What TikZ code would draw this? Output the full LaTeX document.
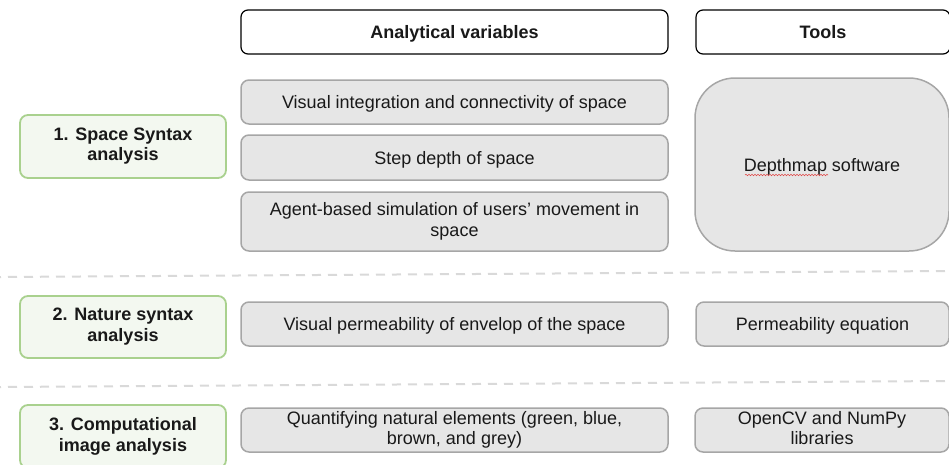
\documentclass[tikz,border=0pt]{standalone}
\usepackage{fontspec}
\setmainfont{Liberation Sans}
\usetikzlibrary{calc,decorations.pathmorphing}
\definecolor{gfill}{HTML}{E6E6E6}
\definecolor{gborder}{HTML}{A6A6A6}
\definecolor{grfill}{HTML}{F3F8F0}
\definecolor{grborder}{HTML}{A9D18E}
\definecolor{dashgray}{HTML}{D9D9D9}
\definecolor{squig}{HTML}{E04848}
\begin{document}
\begin{tikzpicture}[x=1pt,y=-1pt,
  box/.style={rounded corners=8pt, line width=1.5pt, inner sep=0pt, outer sep=0pt, align=center,
    font=\fontsize{18}{20.5}\selectfont, text=black!90,
    execute at begin node={\rule{0pt}{18.3pt}},
    execute at end node={\rule[-4.5pt]{0pt}{4.5pt}}},
  varbox/.style={box, draw=gborder, fill=gfill},
  headbox/.style={box, draw=black, line width=1.2pt, fill=white, rounded corners=7pt,
    font=\fontsize{18}{20.5}\selectfont\bfseries},
  phasebox/.style={box, draw=grborder, fill=grfill, line width=1.8pt,
    font=\fontsize{18}{20.5}\selectfont\bfseries},
  sepline/.style={draw=dashgray, line width=2pt, dash pattern=on 9pt off 7pt, dash phase=-8pt}
]
\useasboundingbox (0,0) rectangle (949,464);
\clip (0,0) rectangle (949,464);

% headers
\node[headbox, minimum width=427pt, minimum height=44pt] (h1) at (454.5,32) {Analytical variables};
\node[headbox, minimum width=254pt, minimum height=44pt] (h2) at (823,32) {Tools};

% analytical variables
\node[varbox, minimum width=427pt, minimum height=44pt] (v1) at (454.5,102) {Visual integration and connectivity of space};
\node[varbox, minimum width=427pt, minimum height=45pt] (v2) at (454.5,157.5) {Step depth of space};
\node[varbox, minimum width=427pt, minimum height=59pt] (v3) at (454.5,221.5) {Agent-based simulation of users’ movement in\\space};
\node[varbox, minimum width=427pt, minimum height=44pt] (v4) at (454.5,324) {Visual permeability of envelop of the space};
\node[varbox, minimum width=427pt, minimum height=44pt] (v5) at (454.5,430) {Quantifying natural elements (green, blue,\\brown, and grey)};

% tools
\node[varbox, rounded corners=40pt, minimum width=254pt, minimum height=173pt] (t1) at (822,164.5) {Depthmap software};
\node[varbox, minimum width=253pt, minimum height=44pt] (t2) at (822.5,324) {Permeability equation};
\node[varbox, minimum width=254pt, minimum height=44pt] (t3) at (822,430) {OpenCV and NumPy\\libraries};

% spellcheck squiggle under "Depthmap"
\draw[squig, line width=0.6pt, decorate, decoration={snake, amplitude=0.7pt, segment length=3pt}]
  ($(t1.center)+(-77,10.5)$) -- ($(t1.center)+(6,10.5)$);

% phases
\node[phasebox, minimum width=206pt, minimum height=63pt] (p1) at (123,146.5) {1. Space Syntax\\analysis};
\node[phasebox, minimum width=206pt, minimum height=62pt] (p2) at (123,327) {2. Nature syntax\\analysis};
\node[phasebox, minimum width=206pt, minimum height=63pt] (p3) at (123,436.5) {3. Computational\\image analysis};

% separators
\coordinate (s1a) at (0,277);
\coordinate (s1b) at (949,271);
\coordinate (s2a) at (0,387);
\coordinate (s2b) at (949,381);
\draw[sepline] (s1a) -- (s1b);
\draw[sepline] (s2a) -- (s2b);
\end{tikzpicture}
\end{document}
